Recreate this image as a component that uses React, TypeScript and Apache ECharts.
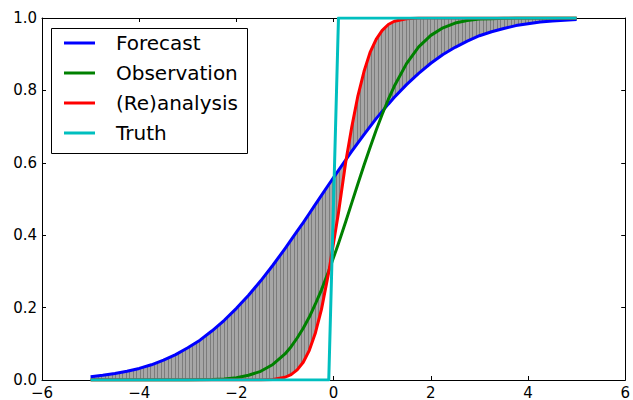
import { useEffect, useRef } from "react";
import * as echarts from "echarts";

const xs = [-5, -4.75, -4.5, -4.25, -4, -3.75, -3.5, -3.25, -3, -2.75, -2.5, -2.25, -2, -1.75, -1.5, -1.25, -1,
  -0.875, -0.75, -0.625, -0.5, -0.375, -0.25,
  -0.1, 0.1,
  0.25, 0.375, 0.5, 0.625, 0.75, 0.875, 1, 1.125, 1.25,
  1.5, 1.75, 2, 2.25, 2.5, 2.75, 3, 3.25, 3.5, 3.75, 4, 4.25, 4.5, 4.75, 5];
const forecast = [0.009, 0.013, 0.018, 0.024, 0.032, 0.042, 0.055, 0.070, 0.089, 0.110, 0.136, 0.165, 0.198, 0.234, 0.274, 0.317, 0.363,
  0.387, 0.411, 0.435, 0.460, 0.485, 0.510,
  0.540, 0.579,
  0.608, 0.632, 0.655, 0.678, 0.700, 0.722, 0.742, 0.762, 0.781,
  0.816, 0.847, 0.875, 0.899, 0.919, 0.936, 0.951, 0.962, 0.971, 0.979, 0.984, 0.989, 0.992, 0.994, 0.996];
const observation = [0, 0, 0, 0, 0, 0, 0, 0.0001, 0.0002, 0.0005, 0.0013, 0.003, 0.006, 0.013, 0.024, 0.043, 0.072,
  0.092, 0.116, 0.143, 0.174, 0.210, 0.249,
  0.301, 0.377,
  0.438, 0.490, 0.542, 0.593, 0.642, 0.690, 0.734, 0.775, 0.812,
  0.874, 0.920, 0.952, 0.973, 0.986, 0.993, 0.997, 0.998, 0.999, 1, 1, 1, 1, 1, 1];
const reanalysis = [0, 0, 0, 0, 0, 0, 0, 0, 0, 0, 0, 0, 0, 0, 0.0002, 0.0016, 0.0076,
  0.015, 0.028, 0.049, 0.082, 0.130, 0.195,
  0.298, 0.462,
  0.603, 0.700, 0.785, 0.852, 0.905, 0.941, 0.966, 0.982, 0.991,
  0.998, 1, 1, 1, 1, 1, 1, 1, 1, 1, 1, 1, 1, 1, 1];
const truth = [0, 0, 0, 0, 0, 0, 0, 0, 0, 0, 0, 0, 0, 0, 0, 0, 0,
  0, 0, 0, 0, 0, 0,
  0, 1,
  1, 1, 1, 1, 1, 1, 1, 1, 1,
  1, 1, 1, 1, 1, 1, 1, 1, 1, 1, 1, 1, 1, 1, 1];

const seriesNames = ["Forecast", "Observation", "(Re)analysis", "Truth"];
const seriesColors = ["#0000ff", "#008000", "#ff0000", "#00bfbf"];

const FONT = "DejaVu Sans";

export default function App() {
  const ref = useRef<HTMLDivElement>(null);
  useEffect(() => {
    document.body.style.margin = "0";
    const chart = echarts.init(ref.current!, null, { renderer: "svg" });

    const cv = document.createElement("canvas");
    cv.width = 7;
    cv.height = 4;
    const ctx = cv.getContext("2d")!;
    ctx.fillStyle = "#a6a6a6";
    ctx.fillRect(0, 0, 7, 4);
    ctx.fillStyle = "#7c7c7c";
    ctx.fillRect(0, 0, 1, 4);
    ctx.fillRect(3, 0, 1, 4);

    const lines = [forecast, observation, reanalysis, truth];

    const axisCommon = {
      axisLine: { show: true, onZero: false, lineStyle: { color: "#000", width: 1 } },
      axisTick: { show: true, inside: true, length: 4, lineStyle: { color: "#000" } },
      splitLine: { show: false },
    };

    chart.setOption({
      animation: false,
      grid: { left: 42, right: 6, top: 18, bottom: 18, containLabel: false },
      xAxis: [
        {
          type: "value", min: -6, max: 6, interval: 2, position: "bottom",
          ...axisCommon,
          axisLabel: {
            color: "#000", fontSize: 15, fontFamily: FONT, margin: 5,
            formatter: (v: number) => String(v).replace("-", "\u2212"),
          },
        },
        {
          type: "value", min: -6, max: 6, interval: 2, position: "top",
          ...axisCommon, axisLabel: { show: false },
        },
      ],
      yAxis: [
        {
          type: "value", min: 0, max: 1, interval: 0.2, position: "left",
          ...axisCommon,
          axisLabel: {
            color: "#000", fontSize: 15, fontFamily: FONT, margin: 5,
            formatter: (v: number) => v.toFixed(1),
          },
        },
        {
          type: "value", min: 0, max: 1, interval: 0.2, position: "right",
          ...axisCommon, axisLabel: { show: false },
        },
      ],
      legend: {
        orient: "vertical",
        left: 64,
        top: 33,
        itemWidth: 31,
        itemHeight: 3,
        itemGap: 10,
        icon: "rect",
        padding: 0,
        z: 10,
        data: seriesNames,
        textStyle: { fontSize: 20, fontFamily: FONT, color: "#000", lineHeight: 20, padding: [0, 0, 0, 16] },
      },
      graphic: [
        {
          type: "rect",
          z: 5,
          shape: { x: 51.5, y: 28.5, width: 196, height: 125 },
          style: { fill: "#fff", stroke: "#000", lineWidth: 1 },
        },
      ],
      series: [
        {
          name: "band",
          type: "custom",
          coordinateSystem: "cartesian2d",
          silent: true,
          z: 1,
          data: [[xs[0], forecast[0]]],
          renderItem: (params: any, api: any) => {
            const pts: number[][] = [];
            for (let i = 0; i < xs.length; i++) pts.push(api.coord([xs[i], forecast[i]]));
            for (let i = xs.length - 1; i >= 0; i--) pts.push(api.coord([xs[i], reanalysis[i]]));
            return {
              type: "polygon",
              shape: { points: pts },
              style: { fill: { image: cv, repeat: "repeat" }, stroke: "none" },
            };
          },
        },
        ...lines.map((vals, k) => ({
          name: seriesNames[k],
          type: "line",
          data: xs.map((x, i) => [x, vals[i]]),
          showSymbol: false,
          symbol: "none",
          z: 2 + k,
          itemStyle: { color: seriesColors[k] },
          lineStyle: { color: seriesColors[k], width: 3, join: "round" },
        })),
      ],
    });
    return () => chart.dispose();
  }, []);
  return <div ref={ref} style={{ width: 633, height: 400 }} />;
}
